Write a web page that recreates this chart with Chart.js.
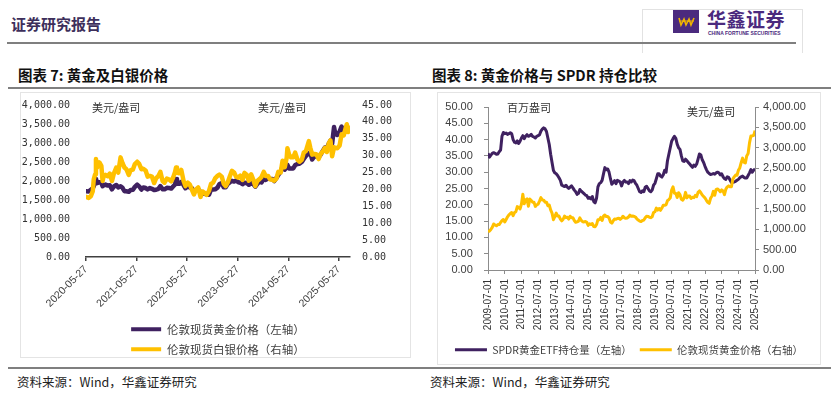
<!DOCTYPE html>
<html>
<head>
<meta charset="utf-8">
<script src="https://cdn.jsdelivr.net/npm/chart.js@4.4.0/dist/chart.umd.min.js"></script>
<style>
  html, body { margin:0; padding:0; background:#fff; }
  body { width:831px; height:394px; position:relative; overflow:hidden; font-family:"Noto Sans CJK SC", sans-serif; }
  .abs { position:absolute; }
  .rule { position:absolute; background:#7f7f7f; }
  .box { position:absolute; border:1px solid #e4e4e4; box-sizing:border-box; }
  .title { position:absolute; font-size:14.5px; font-weight:bold; color:#111; white-space:nowrap; line-height:18px; }
  .foot { position:absolute; font-size:12.5px; color:#222; white-space:nowrap; line-height:16px; }
  canvas { position:absolute; }
</style>
</head>
<body>
<div class="abs" style="left:11px;top:14px;font-size:15px;font-weight:bold;color:#3d2f5b;line-height:20px;white-space:nowrap;">证券研究报告</div>
<div class="abs" style="left:642px;top:9px;width:161px;height:44px;border:1px solid #e2e2e2;border-bottom:none;box-sizing:border-box;"></div>
<div class="abs" style="left:673px;top:10px;width:26px;height:23px;background:#4b2a7e;">
  <svg width="26" height="23" viewBox="0 0 26 23"><polyline points="6,8 8,15 11,9 13,15 16,9 18,15 21,8" fill="none" stroke="#f0b400" stroke-width="1.6"/><line x1="6" y1="11" x2="21" y2="11" stroke="#f0b400" stroke-width="1"/></svg>
</div>
<div class="abs" style="left:707px;top:7px;font-size:19px;font-weight:bold;color:#4b2a7e;line-height:23px;white-space:nowrap;letter-spacing:0.5px;">华鑫证券</div>
<div class="abs" style="left:708px;top:30px;font-size:5px;color:#4b2a7e;line-height:6px;white-space:nowrap;font-family:'Liberation Sans';font-weight:bold;">CHINA FORTUNE SECURITIES</div>
<div class="rule" style="left:7px;top:42px;width:789px;height:2px;"></div>

<div class="title" style="left:18px;top:66px;">图表 7: 黄金及白银价格</div>
<div class="title" style="left:432px;top:66px;">图表 8: 黄金价格与 SPDR 持仓比较</div>
<div class="rule" style="left:8px;top:87px;width:823px;height:2px;"></div>

<div class="box" style="left:20px;top:92px;width:391px;height:266px;"></div>
<div class="box" style="left:437px;top:92px;width:384px;height:273px;"></div>

<canvas id="c1" width="388" height="271" style="left:21px;top:94px;"></canvas>
<canvas id="c2" width="380" height="271" style="left:439px;top:94px;"></canvas>

<div class="rule" style="left:8px;top:367px;width:823px;height:2px;"></div>
<div class="foot" style="left:17px;top:374px;">资料来源：Wind，华鑫证券研究</div>
<div class="foot" style="left:430px;top:374px;">资料来源：Wind，华鑫证券研究</div>

<script>
// ---------------- Chart 7 data ----------------
const leftTickLabels = ['2020-05-27','2021-05-27','2022-05-27','2023-05-27','2024-05-27','2025-05-27'];
const leftDates = [
  '2020-05-27','2020-06-15','2020-07-01','2020-07-15','2020-07-22','2020-08-01','2020-08-07','2020-08-15','2020-09-01','2020-09-15','2020-09-24','2020-10-01','2020-10-15','2020-11-01','2020-11-15','2020-12-01','2020-12-15',
  '2021-01-01','2021-01-15','2021-02-01','2021-02-15','2021-03-01','2021-03-15','2021-04-01','2021-04-15','2021-05-01','2021-05-15','2021-06-01','2021-06-15','2021-07-01','2021-07-15','2021-08-01','2021-08-15','2021-09-01','2021-09-15','2021-10-01','2021-10-15','2021-11-01','2021-11-15','2021-12-01','2021-12-15',
  '2022-01-01','2022-01-15','2022-02-01','2022-02-15','2022-03-01','2022-03-08','2022-03-15','2022-04-01','2022-04-15','2022-05-01','2022-05-15','2022-06-01','2022-06-15','2022-07-01','2022-07-15','2022-08-01','2022-08-15','2022-09-01','2022-09-15','2022-10-01','2022-10-15','2022-11-01','2022-11-15','2022-12-01','2022-12-15',
  '2023-01-01','2023-01-15','2023-02-01','2023-02-15','2023-03-01','2023-03-15','2023-04-01','2023-04-15','2023-05-01','2023-05-15','2023-06-01','2023-06-15','2023-07-01','2023-07-15','2023-08-01','2023-08-15','2023-09-01','2023-09-15','2023-10-01','2023-10-15','2023-11-01','2023-11-15','2023-12-01','2023-12-15',
  '2024-01-01','2024-01-15','2024-02-01','2024-02-15','2024-03-01','2024-03-15','2024-04-01','2024-04-15','2024-05-01','2024-05-15','2024-05-20','2024-06-01','2024-06-15','2024-07-01','2024-07-15','2024-08-01','2024-08-15','2024-09-01','2024-09-15','2024-10-01','2024-10-22','2024-11-01','2024-11-15','2024-12-01','2024-12-15',
  '2025-01-01','2025-01-15','2025-02-01','2025-02-15','2025-03-01','2025-03-15','2025-03-27','2025-04-08','2025-04-22','2025-05-01','2025-05-15','2025-06-01','2025-06-15','2025-07-01','2025-07-15','2025-07-23','2025-08-01','2025-08-15'
];
const leftEndDate = '2025-08-15';
const londonGold = [
  1730,1725,1770,1810,1860,1975,2060,1945,1970,1955,1865,1885,1905,1880,1890,1780,1855,
  1895,1830,1860,1820,1730,1730,1715,1765,1770,1845,1905,1860,1775,1830,1815,1780,1815,1795,1760,1770,1795,1865,1785,1780,
  1820,1818,1800,1855,1910,2050,1930,1925,1975,1895,1810,1850,1830,1810,1710,1770,1780,1710,1665,1665,1650,1640,1770,1775,1780,
  1825,1920,1945,1835,1835,1920,1970,2005,1985,2015,1965,1955,1915,1955,1945,1900,1940,1925,1850,1920,1985,1960,2070,2030,
  2065,2055,2055,2000,2080,2160,2250,2380,2300,2385,2425,2330,2330,2330,2420,2450,2455,2500,2580,2660,2735,2745,2565,2650,2650,
  2625,2695,2800,2880,2860,2985,3060,2980,3420,3240,3210,3300,3430,3340,3340,3420,3350,3340
];
const londonSilver = [
  17.8,17.5,18.0,19.5,23.0,24.5,29.0,26.5,28.0,27.0,22.5,23.8,24.3,23.9,24.7,22.5,24.8,
  26.5,25.0,29.5,27.8,26.5,26.0,24.3,25.7,25.9,27.5,28.2,27.6,26.0,26.1,25.6,23.8,24.0,23.8,21.9,23.3,24.0,25.2,22.5,22.0,
  23.2,23.0,22.4,23.5,25.2,26.5,25.0,24.8,25.8,22.6,21.0,22.0,21.5,19.9,18.5,20.1,20.6,17.8,19.4,19.0,18.4,19.6,21.6,22.0,23.3,
  24.0,24.4,23.8,21.7,21.0,22.0,24.0,25.5,25.0,23.8,23.5,24.1,22.8,24.9,24.3,22.6,24.5,23.0,21.0,22.5,23.1,23.7,25.2,24.0,
  24.0,23.0,22.9,22.6,23.2,25.2,25.0,28.5,26.6,29.5,32.2,30.3,29.5,29.5,30.9,28.8,28.2,28.8,30.9,31.4,34.3,32.4,30.3,30.5,30.4,
  29.0,30.5,31.3,32.3,31.1,33.7,34.5,29.8,32.5,32.3,32.2,33.0,36.3,36.0,38.2,39.3,37.0,38.2
];

// ---------------- Chart 8 data (monthly, 2009-07 .. 2025-07) ----------------
const rightTickLabels = ['2009-07-01','2010-07-01','2011-07-01','2012-07-01','2013-07-01','2014-07-01','2015-07-01','2016-07-01','2017-07-01','2018-07-01','2019-07-01','2020-07-01','2021-07-01','2022-07-01','2023-07-01','2024-07-01','2025-07-01'];
const rightFirstMonth = '2009-07';
const spdrHoldings = [
  35.8,34.6,35.2,35.8,36.0,35.8,
  35.5,35.6,36.3,36.8,41.0,42.2,41.8,42.0,41.6,41.8,42.1,41.8,
  40.0,39.2,39.0,39.6,38.8,39.5,40.5,41.2,40.3,41.0,41.5,41.0,
  41.2,41.6,41.0,40.8,40.5,41.0,41.2,41.5,42.6,43.2,43.6,43.3,
  42.5,40.5,38.5,35.5,33.0,30.5,29.8,29.5,29.0,28.3,27.5,26.0,
  25.8,25.6,26.0,25.4,25.0,25.4,25.8,25.2,24.5,24.0,23.2,23.5,
  24.7,24.2,23.8,23.4,23.0,22.8,22.0,22.2,21.8,22.5,21.0,20.6,
  22.0,25.5,26.5,26.8,27.5,29.5,31.4,30.8,31.0,30.0,28.0,26.3,
  26.8,27.4,26.5,27.5,27.3,27.0,25.8,27.0,27.5,27.0,27.0,26.5,
  27.4,27.0,27.6,27.4,26.6,26.0,25.0,24.0,23.8,24.3,24.0,25.4,
  25.7,25.0,24.3,24.0,24.5,26.0,26.6,28.0,29.5,29.5,28.8,28.5,
  29.2,30.6,30.0,33.5,35.5,37.5,39.5,40.3,41.0,40.4,38.6,37.5,
  37.0,35.0,33.5,33.3,34.0,33.5,33.0,32.5,32.0,31.5,32.2,31.8,
  32.5,34.0,35.6,35.3,33.8,33.0,31.8,30.8,30.0,29.6,29.3,29.4,
  29.6,29.4,29.8,30.0,29.8,29.2,29.5,28.6,28.0,27.8,28.6,28.4,
  27.6,26.8,26.9,27.0,27.2,27.5,27.8,28.3,28.6,28.8,28.4,28.2,
  28.2,29.0,29.8,30.8,30.0,30.6,31.0
];
const spotGoldMonthly = [
  940,955,995,1045,1130,1105,
  1085,1115,1115,1165,1210,1240,1180,1240,1305,1355,1385,1410,
  1335,1410,1430,1555,1535,1500,1620,1860,1625,1720,1745,1565,
  1740,1710,1665,1665,1560,1600,1615,1690,1775,1720,1715,1665,
  1665,1580,1595,1475,1395,1235,1310,1395,1325,1325,1250,1205,
  1245,1325,1285,1295,1250,1320,1285,1285,1215,1170,1180,1200,
  1280,1215,1185,1180,1190,1170,1095,1135,1115,1140,1065,1060,
  1115,1235,1235,1290,1215,1320,1350,1310,1315,1275,1175,1150,
  1210,1250,1245,1265,1270,1240,1270,1320,1280,1270,1275,1300,
  1345,1320,1325,1315,1300,1255,1225,1200,1190,1215,1225,1280,
  1320,1315,1295,1285,1305,1410,1430,1520,1470,1510,1465,1520,
  1590,1590,1600,1700,1730,1770,1960,2040,1885,1880,1780,1895,
  1850,1735,1715,1770,1905,1770,1815,1815,1755,1785,1775,1830,
  1800,1905,1940,1895,1840,1805,1765,1710,1660,1635,1760,1815,
  1930,1835,1980,1990,1960,1920,1965,1940,1850,1985,2040,2065,
  2040,2045,2230,2285,2330,2325,2445,2505,2635,2745,2645,2625,
  2800,2860,3120,3290,3290,3305,3420
];

// ---------------- helpers ----------------
const PURPLE = '#3f2160';
const YELLOW = '#ffc000';
function toYear(s) {
  const [y, m, d] = s.split('-').map(Number);
  const start = Date.UTC(y, 0, 1), next = Date.UTC(y + 1, 0, 1);
  return y + (Date.UTC(y, m - 1, d || 1) - start) / (next - start);
}
function monthToYear(s) { const [y, m] = s.split('-').map(Number); return y + (m - 1) / 12; }
function fmt(v) {
  const s = Number(v).toFixed(2); const parts = s.split('.');
  return parts[0].replace(/\B(?=(\d{3})+(?!\d))/g, ',') + '.' + parts[1];
}
const legendLabels = (chart) => chart.data.datasets.map((ds, i) => ({
  text: ds.label, fillStyle: ds.borderColor, strokeStyle: ds.borderColor, lineWidth: 0,
  hidden: false, datasetIndex: i, fontColor: '#404040'
}));
const unitLabels = {
  id: 'unitLabels',
  afterDraw(chart, args, opts) {
    const { ctx, chartArea } = chart;
    ctx.save();
    ctx.font = '11px "Noto Sans CJK SC"';
    ctx.fillStyle = '#333';
    ctx.textBaseline = 'middle';
    ctx.textAlign = 'left';
    (opts.items || []).forEach(it => ctx.fillText(it.text, chartArea.left + it.dx, chartArea.top + it.dy));
    ctx.restore();
  }
};
const CLEAR = 'rgba(0,0,0,0)';

// ---------------- Chart 7 ----------------
const goldPts = leftDates.map((d, i) => ({ x: toYear(d), y: londonGold[i] }));
const silverPts = leftDates.map((d, i) => ({ x: toYear(d), y: londonSilver[i] }));
new Chart(document.getElementById('c1'), {
  type: 'line',
  data: { datasets: [
    { label: '伦敦现货黄金价格（左轴）', data: goldPts, yAxisID: 'y', borderColor: PURPLE, backgroundColor: PURPLE,
      borderWidth: 4.5, pointRadius: 0, tension: 0, borderJoinStyle: 'round', borderCapStyle: 'round', order: 1 },
    { label: '伦敦现货白银价格（右轴）', data: silverPts, yAxisID: 'y1', borderColor: YELLOW, backgroundColor: YELLOW,
      borderWidth: 4.5, pointRadius: 0, tension: 0, borderJoinStyle: 'round', borderCapStyle: 'round', order: 0 }
  ]},
  options: {
    responsive: false, animation: false, events: [],
    layout: { padding: { left: 0, right: 0, top: 11, bottom: 0 } },
    scales: {
      x: {
        type: 'linear', min: toYear(leftTickLabels[0]), max: toYear(leftEndDate),
        afterBuildTicks: (s) => { s.ticks = leftTickLabels.map(t => ({ value: toYear(t) })); },
        afterFit: (s) => { s.height = 58; },
        ticks: { autoSkip: false, minRotation: 45, maxRotation: 45, padding: 2,
          callback: (v, i) => leftTickLabels[i], color: '#404040', font: { family: 'Liberation Sans', size: 10.5 } },
        grid: { display: true, drawOnChartArea: false, drawTicks: true, tickLength: 4, color: '#404040', lineWidth: 1.5 },
        border: { display: true, color: '#404040', width: 1.5 }
      },
      y: {
        position: 'left', min: 0, max: 4000,
        afterFit: (s) => { s.width = 65; },
        ticks: { stepSize: 500, padding: 0, callback: (v) => fmt(v), color: '#333', font: { family: 'DejaVu Sans Mono', size: 10 } },
        grid: { display: true, drawOnChartArea: false, drawTicks: true, tickLength: 16, color: CLEAR }, border: { display: false }
      },
      y1: {
        position: 'right', min: 0, max: 45,
        afterFit: (s) => { s.width = 59; },
        ticks: { stepSize: 5, padding: 0, callback: (v) => fmt(v), color: '#333', font: { family: 'DejaVu Sans Mono', size: 10 } },
        grid: { display: true, drawOnChartArea: false, drawTicks: true, tickLength: 12, color: CLEAR }, border: { display: false }
      }
    },
    plugins: {
      legend: { position: 'bottom', fullSize: false, align: 'center',
        labels: { generateLabels: legendLabels, boxWidth: 30, boxHeight: 4, padding: 8.5, color: '#404040',
          font: { family: 'Noto Sans CJK SC', size: 11.5 } } },
      tooltip: { enabled: false },
      unitLabels: { items: [ { text: '美元/盎司', dx: 6, dy: 3 }, { text: '美元/盎司', dx: 172, dy: 3 } ] }
    }
  },
  plugins: [unitLabels]
});

// ---------------- Chart 8 ----------------
const m0 = monthToYear(rightFirstMonth);
const spdrPts = spdrHoldings.map((v, i) => ({ x: m0 + i / 12, y: v }));
const goldMPts = spotGoldMonthly.map((v, i) => ({ x: m0 + i / 12, y: v }));
new Chart(document.getElementById('c2'), {
  type: 'line',
  data: { datasets: [
    { label: 'SPDR黄金ETF持仓量（左轴）', data: spdrPts, yAxisID: 'y', borderColor: PURPLE, backgroundColor: PURPLE,
      borderWidth: 3, pointRadius: 0, tension: 0, borderJoinStyle: 'round', order: 1 },
    { label: '伦敦现货黄金价格（右轴）', data: goldMPts, yAxisID: 'y1', borderColor: YELLOW, backgroundColor: YELLOW,
      borderWidth: 3, pointRadius: 0, tension: 0, borderJoinStyle: 'round', order: 0 }
  ]},
  options: {
    responsive: false, animation: false, events: [],
    layout: { padding: { left: 0, right: 0, top: 13, bottom: 0 } },
    scales: {
      x: {
        type: 'linear', min: toYear(rightTickLabels[0]), max: toYear(rightTickLabels[rightTickLabels.length - 1]),
        afterBuildTicks: (s) => { s.ticks = rightTickLabels.map(t => ({ value: monthToYear(t.slice(0, 7)) })); },
        afterFit: (s) => { s.height = 66.5; },
        ticks: { autoSkip: false, minRotation: 90, maxRotation: 90, padding: 5,
          callback: (v, i) => rightTickLabels[i], color: '#333', font: { family: 'Liberation Sans', size: 10 } },
        grid: { display: true, drawOnChartArea: false, drawTicks: true, tickLength: 4, color: '#8c8c8c', lineWidth: 1 },
        border: { display: true, color: '#8c8c8c', width: 1 }
      },
      y: {
        position: 'left', min: 0, max: 50,
        afterFit: (s) => { s.width = 49; },
        ticks: { stepSize: 5, padding: 2, callback: (v) => fmt(v) + '   ', color: '#404040', font: { family: 'Liberation Sans', size: 11 } },
        grid: { display: true, drawOnChartArea: false, drawTicks: true, tickLength: 4, color: '#8c8c8c' },
        border: { display: true, color: '#8c8c8c', width: 1 }
      },
      y1: {
        position: 'right', min: 0, max: 4000,
        afterFit: (s) => { s.width = 64; },
        ticks: { stepSize: 500, padding: 4, callback: (v) => fmt(v), color: '#404040', font: { family: 'Liberation Sans', size: 11 } },
        grid: { display: true, drawOnChartArea: false, drawTicks: true, tickLength: 4, color: '#8c8c8c' },
        border: { display: true, color: '#8c8c8c', width: 1 }
      }
    },
    plugins: {
      legend: { position: 'bottom', align: 'center',
        labels: { generateLabels: legendLabels, boxWidth: 32, boxHeight: 3, padding: 8, color: '#404040',
          font: { family: 'Noto Sans CJK SC', size: 10.5 } } },
      tooltip: { enabled: false },
      unitLabels: { items: [ { text: '百万盎司', dx: 19, dy: 1 }, { text: '美元/盎司', dx: 199, dy: 5 } ] }
    }
  },
  plugins: [unitLabels]
});
</script>
</body>
</html>
